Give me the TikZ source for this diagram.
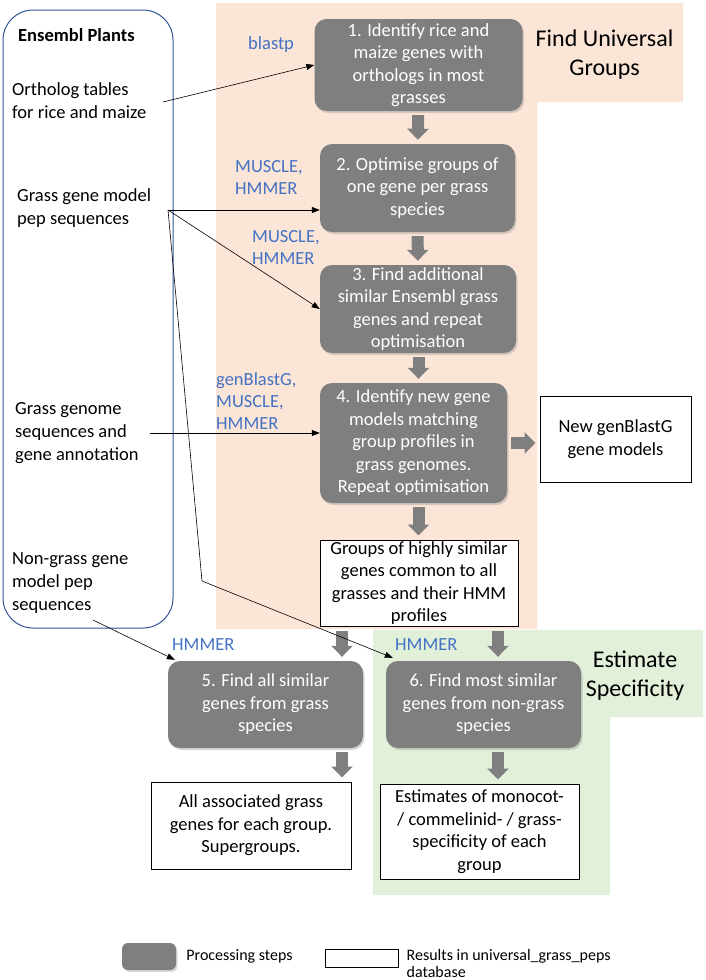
\documentclass[tikz,border=0pt]{standalone}
\usepackage{fontspec}
\setmainfont{Carlito}
\usetikzlibrary{positioning,arrows.meta,shadows}

\definecolor{stepgrey}{HTML}{7F7F7F}
\definecolor{peach}{HTML}{FBE5D6}
\definecolor{palegreen}{HTML}{E2F0D9}
\definecolor{toolblue}{HTML}{4472C4}
\definecolor{plantsblue}{HTML}{2F5597}

\tikzset{
  stepbox/.style={fill=stepgrey, text=white, rounded corners=12pt, align=center, inner sep=0pt,
    drop shadow={shadow xshift=1.5pt, shadow yshift=-2pt, opacity=0.3},
    font=\fontsize{18.5}{22.5}\selectfont},
  resultbox/.style={draw=black, fill=white, line width=1pt, align=center, inner sep=0pt,
    font=\fontsize{18.5}{22.5}\selectfont},
  tool/.style={text=toolblue, align=left, anchor=west, inner sep=0pt, font=\fontsize{18.5}{22}\selectfont},
  source/.style={align=left, anchor=west, inner sep=0pt, font=\fontsize{18.5}{23}\selectfont},
  heading/.style={align=center, inner sep=0pt, font=\fontsize{24}{29}\selectfont},
  feed/.style={-{Triangle[length=8pt,width=6pt]}, line width=0.6pt},
  blockarrow/.style={stepgrey, line width=12pt, -{Triangle[length=11pt,width=21pt]},
    shorten <=4pt, shorten >=4pt}
}

\begin{document}
\begin{tikzpicture}[x=1pt,y=-1pt]
  \pgfmathsetmacro{\StepW}{195}
  \pgfmathsetmacro{\StepH}{88}
  \useasboundingbox (0,0) rectangle (705,980);
  % BACKGROUND
  \fill[peach] (216,3) -- (683,3) -- (683,102) -- (537,102) -- (537,629) -- (216,629) -- cycle;
  \fill[palegreen] (373,630) -- (703,630) -- (703,717) -- (610,717) -- (610,895) -- (373,895) -- cycle;
  \node[heading] (universal) at (604.5,55) {Find Universal\\Groups};
  \node[heading] (specific) at (635,676) {Estimate\\Specificity};
  % SOURCES
  \node[draw=plantsblue, line width=1pt, rounded corners=30pt, minimum width=170pt, minimum height=618pt] (plants) at (88,319) {};
  \node[anchor=west, inner sep=0pt, font=\fontsize{18.5}{22}\selectfont\bfseries] (plantstitle) at (18,35) {Ensembl Plants};
  \node[source] (ortho) at (12,101) {Ortholog tables\\for rice and maize};
  \node[source] (grassgene) at (17,208) {Grass gene model\\pep sequences};
  \node[source] (genome) at (15,433) {Grass genome\\sequences and\\gene annotation};
  \node[source] (nongrass) at (12,583) {Non-grass gene\\model pep\\sequences};
  % STEPS
  \node[stepbox, minimum width=208pt, minimum height=92pt] (identify) at (418.5,65) {1. Identify rice and\\maize genes with\\orthologs in most\\grasses};
  \node[stepbox, minimum width=\StepW pt, minimum height=\StepH pt] (optimise) at (417.5,188) {2. Optimise groups of\\one gene per grass\\species};
  \node[stepbox, minimum width=196pt, minimum height=\StepH pt] (additional) at (418,309) {3. Find additional\\similar Ensembl grass\\genes and repeat\\optimisation};
  \node[stepbox, minimum width=187pt, minimum height=120pt] (newmodels) at (413.5,443) {4. Identify new gene\\models matching\\group profiles in\\grass genomes.\\Repeat optimisation};
  \node[stepbox, minimum width=\StepW pt, minimum height=87pt] (allsimilar) at (265.5,704.5) {5. Find all similar\\genes from grass\\species};
  \node[stepbox, minimum width=\StepW pt, minimum height=87pt] (mostsimilar) at (483.5,704.5) {6. Find most similar\\genes from non-grass\\species};
  % RESULTS
  \node[resultbox, minimum width=151pt, minimum height=86pt] (genblast) at (615.5,439) {New genBlastG\\gene models};
  \node[resultbox, minimum width=198pt, minimum height=86pt] (groups) at (419,583) {Groups of highly similar\\genes common to all\\grasses and their HMM\\profiles};
  \node[resultbox, minimum width=200pt, minimum height=87pt] (associated) at (251,825.5) {All associated grass\\genes for each group.\\Supergroups.};
  \node[resultbox, minimum width=199pt, minimum height=95pt] (estimates) at (479.5,831.5) {Estimates of monocot-\\/ commelinid- / grass-\\specificity of each\\group};
  % TOOLS
  \node[tool] (blastp) at (248,45) {blastp};
  \node[tool] (toolsA) at (235,177) {MUSCLE,\\HMMER};
  \node[tool] (toolsB) at (252,247) {MUSCLE,\\HMMER};
  \node[tool] (toolsC) at (216,401) {genBlastG,\\MUSCLE,\\HMMER};
  \node[tool] (hmmerA) at (172,645) {HMMER};
  \node[tool] (hmmerB) at (395,645) {HMMER};
  % FLOW
  \coordinate (leftdrop) at (342,0);
  \coordinate (rightdrop) at (498,0);
  \draw[blockarrow] (identify) -- (optimise);
  \draw[blockarrow] (optimise) -- (additional);
  \draw[blockarrow] (additional.south -| identify) -- (newmodels.north -| identify);
  \draw[blockarrow] (newmodels.south -| identify) -- (groups.north -| identify);
  \draw[blockarrow] (newmodels.east) -- (genblast.west |- newmodels.east);
  \draw[blockarrow] (groups.south -| leftdrop) -- (allsimilar.north -| leftdrop);
  \draw[blockarrow] (groups.south -| rightdrop) -- (mostsimilar.north -| rightdrop);
  \draw[blockarrow] (allsimilar.south -| leftdrop) -- (associated.north -| leftdrop);
  \draw[blockarrow] (mostsimilar.south -| rightdrop) -- (estimates.north -| rightdrop);
  % INPUTS
  \coordinate (orthoout) at (163,102);
  \coordinate (grassout) at (168,210);
  \coordinate (bend) at (202,581);
  \coordinate (genomeout) at (150,433);
  \coordinate (nongrassout) at (93,620);
  \draw[feed] (orthoout) -- (identify.west);
  \draw[feed] (grassout) -- (optimise.west |- grassout);
  \draw[feed] (grassout) -- (additional.west);
  \draw[feed] (grassout) -- (bend) -- ([shift={(7pt,3pt)}]mostsimilar.north west);
  \draw[feed] (genomeout) -- (newmodels.west |- genomeout);
  \draw[feed] (nongrassout) -- ([shift={(7pt,1pt)}]allsimilar.north west);
  % LEGEND
  \node[stepbox, minimum width=54pt, minimum height=27pt, rounded corners=6pt] (legendstep) at (149,956.5) {};
  \node[right=10pt of legendstep, inner sep=0pt, font=\fontsize{16}{18}\selectfont] (legendsteptext) {Processing steps};
  \node[resultbox, minimum width=73pt, minimum height=18pt] (legendresult) at (361.5,958) {};
  \node[right=8pt of legendresult, yshift=-5pt, inner sep=0pt, align=left, font=\fontsize{16}{17}\selectfont] (legendresulttext) {Results in universal\_grass\_peps\\database};
\end{tikzpicture}
\end{document}
